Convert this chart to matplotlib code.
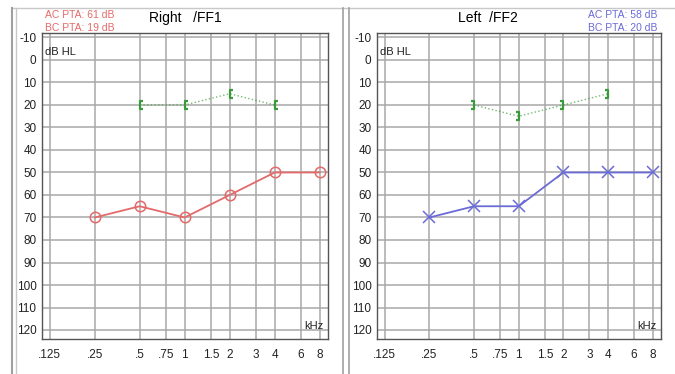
import numpy as np
import matplotlib.pyplot as plt
from matplotlib.path import Path
from matplotlib.lines import Line2D

plt.rcParams['font.family'] = ['Liberation Sans', 'DejaVu Sans']
plt.rcParams['axes.unicode_minus'] = False

# frequencies (kHz) and thresholds (dB HL)
freq_ticks = [0.125, 0.25, 0.5, 0.75, 1, 1.5, 2, 3, 4, 6, 8]
freq_labels = ['.125', '.25', '.5', '.75', '1', '1.5', '2', '3', '4', '6', '8']
db_ticks = list(range(-10, 130, 10))

right_ac_f = [0.25, 0.5, 1, 2, 4, 8]
right_ac = [70, 65, 70, 60, 50, 50]
right_bc_f = [0.5, 1, 2, 4]
right_bc = [20, 20, 15, 20]

left_ac_f = [0.25, 0.5, 1, 2, 4, 8]
left_ac = [70, 65, 65, 50, 50, 50]
left_bc_f = [0.5, 1, 2, 4]
left_bc = [20, 25, 20, 15]

red = '#e36a6a'
blue = '#6b6bd6'
green = '#3a9a3a'

open_br = Path([(0.4, -0.5), (0, -0.5), (0, 0.5), (0.4, 0.5)],
               [Path.MOVETO, Path.LINETO, Path.LINETO, Path.LINETO])
close_br = Path([(-0.4, -0.5), (0, -0.5), (0, 0.5), (-0.4, 0.5)],
                [Path.MOVETO, Path.LINETO, Path.LINETO, Path.LINETO])

W, H = 675, 374
fig = plt.figure(figsize=(6.75, 3.74), dpi=100)

# panel frames
def vline(x, y0=8, y1=374, c='#b0b0b0', lw=1.2):
    fig.add_artist(Line2D([x / W, x / W], [1 - y0 / H, 1 - y1 / H], color=c, lw=lw))

fig.add_artist(Line2D([12 / W, 1], [1 - 8 / H, 1 - 8 / H], color='#c8c8c8', lw=1))
vline(12, c='#a0a0a0', lw=1.5)
vline(16, c='#c8c8c8', lw=1)
vline(343, c='#a0a0a0', lw=1.2)
vline(349, c='#a0a0a0', lw=1.2)


def audiogram(rect, ac_f, ac, bc_f, bc, color, marker, msize, bc_marker):
    ax = fig.add_axes(rect)
    ax.set_xscale('log')
    ax.set_xlim(0.111, 9.1)
    ax.set_ylim(124, -12)
    ax.set_xticks(freq_ticks)
    ax.set_xticklabels(freq_labels)
    ax.minorticks_off()
    ax.set_yticks(db_ticks)
    ax.grid(True, color='#a8a8a8', lw=1.1)
    ax.tick_params(length=0, labelsize=8.5, colors='#222222', pad=4)
    ax.tick_params(axis='x', pad=7)
    for s in ax.spines.values():
        s.set_color('#555555')
        s.set_linewidth(1)
    ax.plot(bc_f, bc, color=green, ls=':', lw=1, alpha=0.7)
    ax.plot(bc_f, bc, ls='none', marker=bc_marker, ms=6, mec=green, mew=1.6,
            mfc='none')
    ax.plot(ac_f, ac, color=color, lw=1.3, marker=marker, ms=msize,
            mfc='none', mec=color, mew=1.1)
    ax.text(0.012, 0.955, 'dB HL', transform=ax.transAxes, fontsize=8,
            ha='left', va='top', color='#222222')
    ax.text(0.985, 0.025, 'kHz', transform=ax.transAxes, fontsize=8,
            ha='right', va='bottom', color='#222222')
    return ax


axl = audiogram([42 / W, 1 - 339 / H, 286 / W, 306 / H],
                right_ac_f, right_ac, right_bc_f, right_bc, red, 'o', 7.5, open_br)
axr = audiogram([377 / W, 1 - 339 / H, 284 / W, 306 / H],
                left_ac_f, left_ac, left_bc_f, left_bc, blue, 'x', 9, close_br)

fig.text(185 / W, 1 - 18 / H, 'Right   /FF1', ha='center', va='center', fontsize=10)
fig.text(488 / W, 1 - 18 / H, 'Left  /FF2', ha='center', va='center', fontsize=10)
fig.text(45 / W, 1 - 15 / H, 'AC PTA: 61 dB', color=red, fontsize=7.5, ha='left', va='center')
fig.text(45 / W, 1 - 28 / H, 'BC PTA: 19 dB', color=red, fontsize=7.5, ha='left', va='center')
fig.text(657 / W, 1 - 15 / H, 'AC PTA: 58 dB', color=blue, fontsize=7.5, ha='right', va='center')
fig.text(657 / W, 1 - 28 / H, 'BC PTA: 20 dB', color=blue, fontsize=7.5, ha='right', va='center')

fig.savefig('out.png', dpi=100)
